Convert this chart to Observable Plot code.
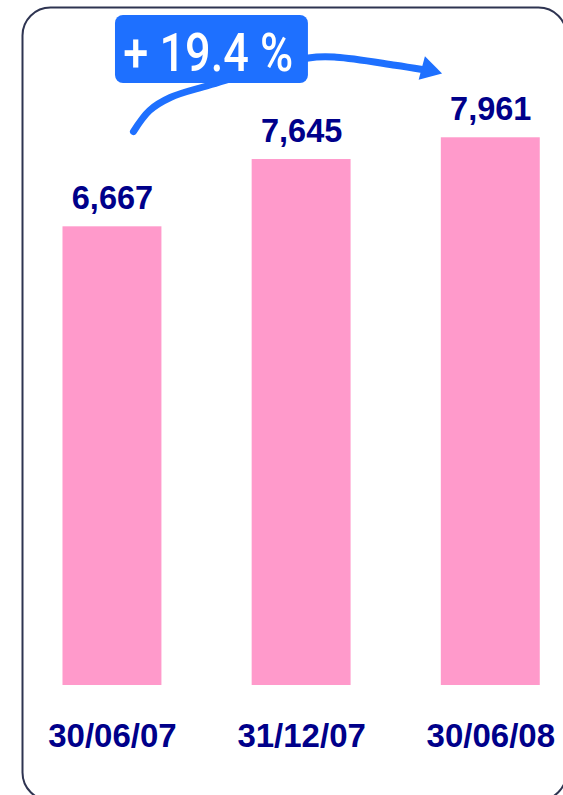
<!DOCTYPE html>
<html><head><meta charset="utf-8">
<script src="https://cdn.jsdelivr.net/npm/d3@7"></script>
<script src="https://cdn.jsdelivr.net/npm/@observablehq/plot@0.6"></script>
<style>html,body{margin:0;padding:0;background:#fff;} #chart{width:563px;height:795px;overflow:hidden}</style>
</head><body><div id="chart"></div>
<script>
// Data
const dates = ["30/06/07", "31/12/07", "30/06/08"];
const values = [6667, 7645, 7961];
const growthLabel = "+ 19.4 %";
// Annotation arrow path (data units: x = category index, y = value)
const arrowX = [0.111, 0.196, 0.306, 0.507, 1.036, 1.184, 1.495, 1.638];
const arrowY = [8052, 8358, 8547, 8721, 9121, 9132, 9016, 8953];
const arrowHeadX = [1.671];
const arrowHeadY = [8948];
// Annotation box (data units)
const boxX = [0.016, 1.036];
const boxY = [8750, 9738];
const boxTextX = [0.506];
const boxTextY = [8929];

const bars = dates.map((d, i) => ({i, date: d, v: values[i]}));
const arrowPts = arrowX.map((x, k) => ({x, y: arrowY[k]}));
const head = [{x: arrowHeadX[0], y: arrowHeadY[0]}];
const box = [{x1: boxX[0], x2: boxX[1], y1: boxY[0], y2: boxY[1]}];
const boxText = [{x: boxTextX[0], y: boxTextY[0], t: growthLabel}];

const navy = "#00008a";
const pink = "#ff9acb";
const blue = "#1e70ff";

const plot = Plot.plot({
  width: 563,
  height: 795,
  marginTop: 0, marginBottom: 0, marginLeft: 0, marginRight: 0,
  x: {type: "linear", domain: [-0.5, 2.5], range: [17.375, 584.875], axis: null},
  y: {type: "linear", domain: [0, 10000], range: [685, -3], axis: null},
  style: {fontFamily: "'Liberation Sans', Arial, sans-serif", background: "white"},
  marks: [
    Plot.frame({stroke: "#2e3451", strokeWidth: 2, rx: 28, insetLeft: 22, insetTop: 7, insetRight: -3, insetBottom: -5}),
    Plot.rectY(bars, {x1: d => d.i - 0.2615, x2: d => d.i + 0.2615, y: "v", fill: pink}),
    Plot.text(bars, {x: "i", y: "v", text: d => d3.format(",")(d.v), dy: -17.5, lineAnchor: "bottom",
      fontSize: 32.5, fontWeight: "bold", fill: navy}),
    Plot.text(bars, {x: "i", text: "date", frameAnchor: "bottom", dy: -48.3, lineAnchor: "bottom",
      fontSize: 33, fontWeight: "bold", fill: navy}),
    Plot.line(arrowPts, {x: "x", y: "y", stroke: blue, strokeWidth: 7, curve: "catmull-rom"}),
    Plot.dot(head, {x: "x", y: "y", symbol: "triangle", r: 9, rotate: 105, fill: blue, stroke: "none"}),
    Plot.rect(box, {x1: "x1", x2: "x2", y1: "y1", y2: "y2", rx: 8, fill: blue}),
    Plot.text(boxText, {x: "x", y: "y", text: "t", lineAnchor: "bottom", fontSize: 53, fontWeight: 500,
      fontFamily: "Roboto, 'DejaVu Sans Condensed', sans-serif", fill: "white"})
  ]
});
plot.querySelectorAll("text").forEach(t => {
  if (t.textContent === growthLabel) {
    t.setAttribute("textLength", 170);
    t.setAttribute("lengthAdjust", "spacingAndGlyphs");
  }
});
document.getElementById("chart").appendChild(plot);
</script>
</body></html>
